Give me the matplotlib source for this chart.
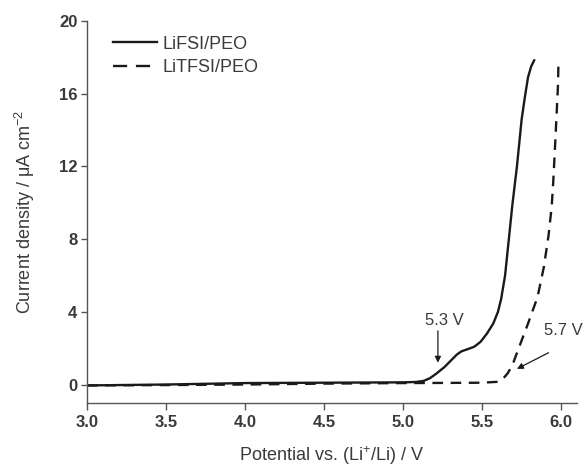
import matplotlib
matplotlib.use("Agg")
import matplotlib.pyplot as plt
from matplotlib.lines import Line2D

plt.rcParams['font.family'] = ['Liberation Sans', 'DejaVu Sans']
plt.rcParams['mathtext.fontset'] = 'custom'
plt.rcParams['mathtext.rm'] = 'Liberation Sans'
plt.rcParams['mathtext.it'] = 'Liberation Sans:italic'

# Data
fsi_x = [3.0, 3.5, 4.0, 4.5, 5.0, 5.08, 5.13, 5.17, 5.21, 5.26, 5.3, 5.34, 5.37, 5.41, 5.45,
         5.49, 5.53, 5.57, 5.6, 5.62, 5.645, 5.67, 5.69, 5.72, 5.75, 5.77, 5.79, 5.81, 5.83]
fsi_y = [-0.05, 0.0, 0.08, 0.1, 0.12, 0.14, 0.2, 0.35, 0.6, 0.95, 1.3, 1.65, 1.83, 1.95, 2.08,
         2.35, 2.8, 3.35, 4.0, 4.7, 6.0, 8.1, 9.8, 12.0, 14.6, 15.8, 16.9, 17.5, 17.85]

tfsi_x = [3.0, 3.5, 4.0, 4.5, 5.0, 5.3, 5.5, 5.6, 5.63, 5.66, 5.69, 5.74, 5.79, 5.85, 5.89,
          5.92, 5.94, 5.95, 5.96, 5.97, 5.98, 5.983]
tfsi_y = [-0.05, -0.03, 0.0, 0.05, 0.08, 0.09, 0.1, 0.15, 0.3, 0.6, 1.04, 2.2, 3.35, 4.8, 6.45,
          8.2, 9.8, 11.2, 12.9, 14.7, 16.5, 17.9]

labels = ["LiFSI/PEO", "LiTFSI/PEO"]
xticks = [3.0, 3.5, 4.0, 4.5, 5.0, 5.5, 6.0]
yticks = [0, 4, 8, 12, 16, 20]

txt = '#3a3a3a'
lc = '#1a1a1a'
ax_c = '#555555'

fig = plt.figure(figsize=(5.84, 4.70), dpi=100)
ax = fig.add_axes([87/584, 1-402.7/470, (577-87)/584, (402.7-21)/470])

ax.plot(fsi_x, fsi_y, color=lc, lw=1.7, solid_capstyle='round', solid_joinstyle='round')
ax.plot(tfsi_x, tfsi_y, color=lc, lw=1.7, dashes=(4.5, 3.2))

ax.set_xlim(3.0, 6.1)
ax.set_ylim(-1, 20)
ax.spines['top'].set_visible(False)
ax.spines['right'].set_visible(False)
for s in ('left', 'bottom'):
    ax.spines[s].set_color(ax_c)
    ax.spines[s].set_linewidth(1.0)

ax.set_xticks(xticks)
ax.set_xticklabels([f"{v:.1f}" for v in xticks])
ax.set_yticks(yticks)
ax.tick_params(axis='x', direction='out', length=5, width=1.0, color=ax_c,
               labelsize=12, labelcolor=txt, pad=4)
ax.tick_params(axis='y', direction='out', length=4, width=1.0, color=ax_c,
               labelsize=12, labelcolor=txt, pad=3)
for lab in ax.get_xticklabels() + ax.get_yticklabels():
    lab.set_fontweight('bold')

ax.set_xlabel("Potential vs. (Li$^{+}$/Li) / V", fontsize=13, color=txt, labelpad=10)
ax.set_ylabel("Current density / μA cm$^{-2}$", fontsize=13, color=txt, labelpad=16)

handles = [Line2D([0], [0], color=lc, lw=1.7),
           Line2D([0], [0], color=lc, lw=1.7, dashes=(6, 3.7))]
leg = ax.legend(handles, labels, loc='upper left', bbox_to_anchor=(0.028, 0.995),
                frameon=False, fontsize=13, handlelength=2.4, handletextpad=0.3,
                labelspacing=0.35, borderaxespad=0.3)
for t in leg.get_texts():
    t.set_color(txt)

ax.annotate("", xy=(5.22, 1.2), xytext=(5.22, 2.95),
            arrowprops=dict(arrowstyle='-|>', color=lc, lw=0.9,
                            mutation_scale=9, shrinkA=0, shrinkB=0))
ax.text(5.26, 3.1, "5.3 V", ha='center', va='bottom', fontsize=12, color=txt)
ax.annotate("", xy=(5.72, 0.86), xytext=(5.92, 1.75),
            arrowprops=dict(arrowstyle='-|>', color=lc, lw=0.9,
                            mutation_scale=9, shrinkA=0, shrinkB=0))
ax.text(5.89, 2.55, "5.7 V", ha='left', va='bottom', fontsize=12, color=txt, clip_on=False)

fig.savefig("out.png", dpi=100)
